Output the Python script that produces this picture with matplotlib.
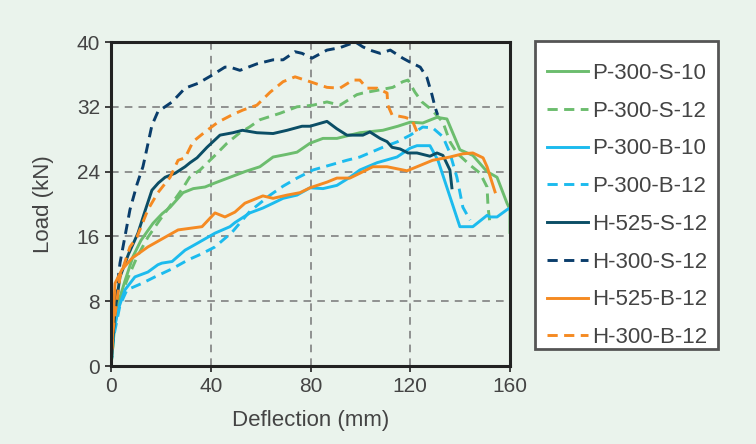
import matplotlib
matplotlib.use("Agg")
import matplotlib.pyplot as plt
from matplotlib.patches import Rectangle

plt.rcParams['font.family'] = ['Liberation Sans', 'DejaVu Sans']

# ---- data (deflection mm, load kN) ----
p300s10_x = [0, 1.5, 3.6, 5.6, 8.8, 12, 16.8, 20.5, 23.7, 28.9, 33, 37.7, 41.7, 47.7, 53.7, 59.7, 65, 70, 74.6, 79.8, 85, 90.6, 95.8, 99.8, 109, 115, 120, 125, 130.7, 134.7, 139.9, 145.1, 150.8, 154.8, 158.8, 160, 160]
p300s10_y = [0, 5, 8.5, 10.5, 13.5, 15.5, 17.6, 18.8, 19.6, 21.4, 21.9, 22.1, 22.6, 23.3, 24.0, 24.6, 25.8, 26.1, 26.4, 27.5, 28.1, 28.1, 28.5, 28.8, 29.1, 29.6, 30.1, 30.0, 30.7, 30.5, 26.7, 26.0, 24.0, 23.3, 20.1, 19.3, 16.5]

p300s12_x = [0, 1.5, 3.6, 6.4, 10.5, 14.8, 19.5, 24.5, 28.9, 31.5, 35.7, 41.7, 46.5, 51.7, 55.5, 59.7, 67.8, 74.6, 81, 86.6, 91.8, 98.6, 101, 107.9, 113, 117, 119.1, 121.9, 124.7, 128.7, 133.1, 135.9, 138.7, 144, 148, 150.8, 151.2, 152]
p300s12_y = [0, 5, 8.3, 10.6, 13.5, 15.9, 18.0, 20.1, 22.0, 23.3, 24.2, 26.0, 27.5, 28.8, 29.5, 30.4, 31.2, 32.0, 32.2, 32.6, 32.2, 33.5, 33.7, 34.1, 34.4, 35.1, 35.3, 33.8, 32.6, 31.6, 30.1, 27.7, 26.3, 24.8, 23.8, 22.1, 19.6, 17.5]

p300b10_x = [0, 1, 2.8, 5.6, 9.6, 14.8, 18.8, 20.4, 24.5, 29.7, 34.9, 41.7, 47.7, 49.7, 55.7, 60.9, 65, 69, 74.6, 79.8, 85, 90.6, 95.8, 99.8, 106.7, 114.7, 120, 122.7, 127.9, 131.1, 139.9, 145.1, 150.8, 152, 154.8, 158.8, 160]
p300b10_y = [0, 4, 6.9, 9.4, 11.0, 11.6, 12.5, 12.7, 12.9, 14.3, 15.2, 16.4, 17.2, 17.7, 18.9, 19.5, 20.1, 20.7, 21.1, 22.0, 21.9, 22.3, 23.3, 24.2, 25.1, 25.8, 26.9, 27.2, 27.2, 25.4, 17.2, 17.2, 18.6, 18.4, 18.4, 19.3, 19.5]

p300b12_x = [0, 1, 3.6, 6.4, 12.4, 17.6, 24.5, 30.9, 36, 41.7, 48.5, 55.7, 63.8, 69, 74.6, 81, 87.8, 94.6, 99.8, 109, 115, 120, 125, 129, 133.1, 135.9, 138.7, 141.1, 144]
p300b12_y = [0, 3.5, 7.5, 9.4, 10.2, 11.0, 12.0, 13.1, 13.8, 14.7, 16.5, 19.1, 21.1, 22.2, 23.2, 24.2, 24.8, 25.4, 25.8, 27.0, 27.7, 28.5, 29.5, 29.4, 28.3, 26.3, 23.3, 19.6, 18.0]

h525s12_x = [0, 1.5, 3.6, 7, 10.8, 13.5, 16.4, 19, 21.7, 25.7, 29.7, 31.7, 34.5, 38.5, 43.7, 48.9, 52.7, 58.5, 65, 70.6, 76.6, 79.8, 86.6, 90.5, 94.6, 99.8, 101, 103.8, 107.9, 110.7, 112.7, 115.9, 119.1, 122.7, 127.9, 130.7, 133.1, 135.9, 136.7]
h525s12_y = [0, 6.5, 11.0, 13.8, 16.4, 19.0, 21.7, 22.6, 23.3, 23.8, 24.6, 25.1, 25.7, 27.0, 28.5, 28.8, 29.1, 28.8, 28.7, 29.1, 29.6, 29.6, 30.2, 29.3, 28.5, 28.5, 28.5, 28.9, 28.1, 27.7, 27.0, 26.8, 26.3, 26.3, 25.9, 26.3, 26.0, 24.2, 22.0]

h300s12_x = [0, 1, 2, 3.6, 7.6, 10.5, 12.8, 13.6, 16.4, 18.8, 24.5, 29.7, 34.9, 40.5, 45.7, 47.7, 51.7, 58.5, 65, 69, 73.8, 76.6, 80.6, 86.6, 91.8, 98, 101, 103.8, 107.9, 112, 117, 120, 124, 126.7, 128.7, 130, 131]
h300s12_y = [0, 4.5, 8.5, 12.7, 19.3, 22.5, 24.6, 25.7, 29.7, 31.4, 32.6, 34.3, 34.9, 35.9, 36.9, 36.9, 36.5, 37.3, 37.8, 37.8, 38.8, 38.6, 38.0, 39.0, 39.3, 40.0, 39.4, 39.0, 38.6, 39.0, 38.0, 37.5, 36.9, 35.6, 33.5, 31.9, 31.0]

h525b12_x = [0, 0.8, 1.6, 4.4, 8.4, 14.8, 21.7, 26.9, 36.5, 41.7, 45.7, 49.7, 53.7, 60.9, 65, 70.6, 75.8, 79.8, 86.6, 90.6, 95.8, 99.8, 105, 110.7, 118.7, 122.7, 129, 135.9, 141.1, 145.1, 149.2, 150.8, 154]
h525b12_y = [0, 5, 10.2, 11.9, 13.3, 14.7, 15.9, 16.8, 17.2, 18.9, 18.4, 19.0, 20.1, 21.0, 20.7, 21.1, 21.4, 22.0, 22.7, 23.2, 23.2, 23.8, 24.6, 24.6, 24.1, 24.6, 25.4, 25.8, 26.2, 26.3, 25.7, 24.6, 21.5]

h300b12_x = [0, 0.8, 2.4, 3.6, 7.6, 10.4, 14.8, 18.8, 23.7, 26.9, 29.7, 32.9, 37.7, 42.9, 48.5, 52.9, 58.5, 63.8, 69, 73.8, 79.8, 86.6, 91.8, 97, 99.8, 102.6, 106.7, 110.7, 111, 112.7, 117.9, 120.7, 122.7]
h300b12_y = [0, 4.4, 8.1, 11.0, 14.7, 15.9, 19.3, 21.4, 23.3, 25.4, 25.7, 27.7, 28.9, 30.1, 31.0, 31.6, 32.2, 33.8, 35.1, 35.7, 35.1, 34.4, 34.3, 35.3, 35.3, 34.3, 34.3, 33.7, 32.2, 31.0, 30.7, 30.4, 28.9]

labels = ['P-300-S-10', 'P-300-S-12', 'P-300-B-10', 'P-300-B-12',
          'H-525-S-12', 'H-300-S-12', 'H-525-B-12', 'H-300-B-12']
x_ticks = [0, 40, 80, 120, 160]
y_ticks = [0, 8, 16, 24, 32, 40]

GREEN = '#6cbd6e'
CYAN = '#1cbbee'
TEAL = '#0b4e66'
NAVY = '#0a3d6b'
ORANGE = '#f58a22'
BG = '#eaf3ec'

series = [
    (p300s10_x, p300s10_y, GREEN, '-'),
    (p300s12_x, p300s12_y, GREEN, '--'),
    (p300b10_x, p300b10_y, CYAN, '-'),
    (p300b12_x, p300b12_y, CYAN, '--'),
    (h525s12_x, h525s12_y, TEAL, '-'),
    (h300s12_x, h300s12_y, NAVY, '--'),
    (h525b12_x, h525b12_y, ORANGE, '-'),
    (h300b12_x, h300b12_y, ORANGE, '--'),
]

fig = plt.figure(figsize=(7.56, 4.44), dpi=100, facecolor=BG)
ax = fig.add_axes([111/756, 1-366/444, (510-111)/756, (366-42)/444])
ax.set_facecolor(BG)

LW = 2.1
DASH = (3.5, 2.2)
handles = []
for (xs, ys, c, ls), lab in zip(series, labels):
    if ls == '--':
        ln, = ax.plot(xs, ys, color=c, lw=LW, linestyle=(0, DASH), label=lab)
    else:
        ln, = ax.plot(xs, ys, color=c, lw=LW, label=lab)
    handles.append(ln)

ax.set_xlim(0, 160)
ax.set_ylim(0, 40)
ax.set_xticks(x_ticks)
ax.set_yticks(y_ticks)
ax.grid(True, color='#777777', linestyle=(0, (5, 4)), linewidth=1.1)
ax.set_axisbelow(True)
for s in ax.spines.values():
    s.set_color('#222222')
    s.set_linewidth(2.2)
ax.tick_params(axis='both', colors='#222222', length=4, width=1.2,
               labelsize=15, labelcolor='#444444', pad=4)
ax.set_xlabel('Deflection (mm)', fontsize=16, color='#444444', labelpad=10)
ax.set_ylabel('Load (kN)', fontsize=16, color='#444444', labelpad=16)

# legend box
fig.patches.append(Rectangle((535/756, 1-349/444), (718-535)/756, (349-41)/444,
                             transform=fig.transFigure, facecolor='white',
                             edgecolor='#555555', linewidth=2.0, zorder=0))
fig.legend(handles, labels, loc='upper left', bbox_to_anchor=(529/756, 1-45/444),
           frameon=False, fontsize=16, labelcolor='#444444', handlelength=1.85,
           handletextpad=0.2, labelspacing=0.755, borderpad=0.3)

fig.savefig('out.png', dpi=100, facecolor=BG)
